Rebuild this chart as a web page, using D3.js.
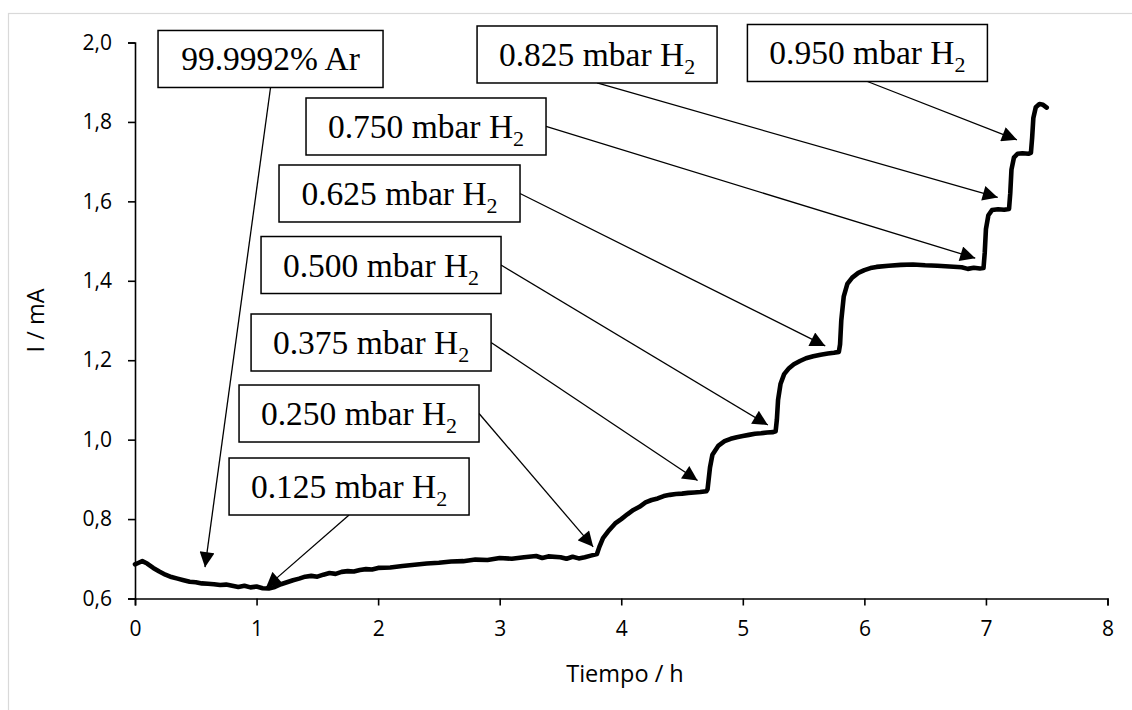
<!DOCTYPE html>
<html>
<head>
<meta charset="utf-8">
<script src="https://cdn.jsdelivr.net/npm/d3@7"></script>
<style>
  html, body { margin: 0; padding: 0; background: #fff; }
  svg { display: block; }
</style>
</head>
<body>
<svg id="chart" width="1132" height="710"></svg>
<script>
// ---------------- DATA ----------------
const timeH = [0,0.03,0.06,0.1,0.15,0.2,0.25,0.3,0.35,0.4,0.45,0.5,0.55,0.6,0.65,0.7,0.75,0.8,0.85,0.9,0.95,1.0,1.05,1.1,1.15,1.2,1.25,1.3,1.35,1.4,1.45,1.5,1.55,1.6,1.65,1.7,1.75,1.8,1.85,1.9,1.95,2.0,2.1,2.2,2.3,2.4,2.5,2.6,2.7,2.8,2.9,3.0,3.1,3.2,3.3,3.35,3.4,3.5,3.55,3.6,3.65,3.7,3.75,3.8,3.82,3.85,3.9,3.95,4.0,4.05,4.1,4.15,4.2,4.25,4.3,4.35,4.4,4.45,4.5,4.55,4.6,4.65,4.7,4.71,4.73,4.75,4.8,4.85,4.9,4.95,5.0,5.05,5.1,5.15,5.2,5.25,5.27,5.28,5.29,5.31,5.34,5.38,5.42,5.47,5.52,5.58,5.64,5.7,5.75,5.79,5.8,5.81,5.83,5.86,5.9,5.95,6.0,6.05,6.1,6.2,6.3,6.4,6.5,6.6,6.7,6.8,6.85,6.9,6.95,6.98,6.99,7.0,7.02,7.05,7.1,7.15,7.19,7.2,7.21,7.23,7.26,7.3,7.35,7.37,7.38,7.39,7.41,7.44,7.47,7.5];
const currentMA = [0.686,0.690,0.694,0.688,0.677,0.668,0.660,0.654,0.650,0.646,0.642,0.641,0.638,0.637,0.636,0.634,0.635,0.632,0.629,0.632,0.628,0.630,0.626,0.625,0.629,0.636,0.641,0.646,0.650,0.655,0.657,0.655,0.660,0.664,0.662,0.667,0.669,0.668,0.672,0.674,0.673,0.677,0.678,0.682,0.685,0.688,0.690,0.693,0.694,0.698,0.697,0.702,0.700,0.704,0.707,0.702,0.706,0.704,0.700,0.705,0.701,0.704,0.708,0.712,0.730,0.752,0.772,0.789,0.800,0.812,0.823,0.831,0.842,0.848,0.852,0.858,0.861,0.863,0.864,0.866,0.867,0.868,0.870,0.875,0.930,0.962,0.985,0.996,1.002,1.006,1.009,1.012,1.015,1.016,1.018,1.019,1.021,1.05,1.10,1.14,1.165,1.18,1.19,1.198,1.205,1.21,1.214,1.217,1.219,1.221,1.24,1.30,1.36,1.392,1.408,1.42,1.427,1.432,1.435,1.438,1.440,1.441,1.439,1.438,1.436,1.434,1.430,1.433,1.431,1.432,1.47,1.53,1.565,1.578,1.580,1.579,1.581,1.62,1.68,1.71,1.72,1.721,1.720,1.722,1.76,1.81,1.837,1.845,1.843,1.836];

const xTicks = [0,1,2,3,4,5,6,7,8];
const yTicks = [0.6,0.8,1.0,1.2,1.4,1.6,1.8,2.0];
const xTitle = "Tiempo / h";
const yTitle = "I / mA";

// annotations: label text, subscript, box centre (data units), arrow target (data units)
const annText   = ["99.9992% Ar","0.125 mbar H","0.250 mbar H","0.375 mbar H","0.500 mbar H","0.625 mbar H","0.750 mbar H","0.825 mbar H","0.950 mbar H"];
const annSub    = ["","2","2","2","2","2","2","2","2"];
const annBoxT   = [1.115,1.761,1.843,1.942,2.024,2.176,2.394,3.801,6.025];
const annBoxV   = [1.9585,0.882,1.0658,1.2446,1.4397,1.6198,1.7885,1.9698,1.9736];
const annTipT   = [0.576,1.078,3.769,4.628,5.206,5.678,6.912,7.097,7.255];
const annTipV   = [0.679,0.628,0.730,0.897,1.037,1.236,1.457,1.610,1.755];
const annSide   = ["bottom","bottom","right","right","right","right","right","bottom","bottom"];

// ---------------- LAYOUT ----------------
const svg = d3.select("#chart");
const plot = { left: 135, right: 1107.5, top: 42.5, bottom: 598.5 };
const x = d3.scaleLinear().domain([0, 8]).range([plot.left, plot.right]);
const y = d3.scaleLinear().domain([0.6, 2.0]).range([plot.bottom, plot.top]);

// outer light border
svg.append("rect")
  .attr("x", 8.5).attr("y", 13.5).attr("width", 1140).attr("height", 720)
  .attr("fill", "#fff").attr("stroke", "#d9d9d9").attr("stroke-width", 1.2);

const tickFont = "'Open Sans', 'Liberation Sans', sans-serif";

// X axis
const xAxis = svg.append("g")
  .attr("transform", `translate(0,${plot.bottom})`)
  .call(d3.axisBottom(x).tickValues(xTicks).tickSize(7).tickSizeOuter(7).tickPadding(16)
        .tickFormat(d3.format("d")));
// Y axis
const yAxis = svg.append("g")
  .attr("transform", `translate(${plot.left},0)`)
  .call(d3.axisLeft(y).tickValues(yTicks).tickSize(7).tickSizeOuter(7).tickPadding(16)
        .tickFormat(d => d3.format(".1f")(d).replace(".", ",")));

[xAxis, yAxis].forEach(g => {
  g.select(".domain").attr("stroke", "#000").attr("stroke-width", 1.6);
  g.selectAll(".tick line").attr("stroke", "#000").attr("stroke-width", 1.6);
  g.selectAll("text").attr("font-family", tickFont).attr("font-size", 21).attr("fill", "#000");
});

// axis titles
svg.append("text")
  .attr("x", 625).attr("y", 682)
  .attr("text-anchor", "middle")
  .attr("font-family", tickFont).attr("font-size", 23.5).attr("fill", "#000")
  .text(xTitle);
svg.append("text")
  .attr("transform", `translate(44,${(plot.top + plot.bottom) / 2}) rotate(-90)`)
  .attr("text-anchor", "middle")
  .attr("font-family", tickFont).attr("font-size", 23.5).attr("fill", "#000")
  .text(yTitle);

// data line
const line = d3.line().x((d, i) => x(timeH[i])).y(d => y(d));
svg.append("path")
  .datum(currentMA)
  .attr("d", line)
  .attr("fill", "none")
  .attr("stroke", "#000")
  .attr("stroke-width", 4.6)
  .attr("stroke-linejoin", "round")
  .attr("stroke-linecap", "round");

// arrowhead marker
svg.append("defs").append("marker")
  .attr("id", "arrow")
  .attr("viewBox", "0 0 10 10")
  .attr("refX", 10).attr("refY", 5)
  .attr("markerUnits", "userSpaceOnUse")
  .attr("markerWidth", 16).attr("markerHeight", 15)
  .attr("orient", "auto")
  .append("path").attr("d", "M0,0 L10,5 L0,10 Z").attr("fill", "#000");

const boxW = [225,240,240,240,240,241,240,240,240];
const boxH = 57;

annText.forEach((t, i) => {
  const cx = x(annBoxT[i]), cy = y(annBoxV[i]);
  const w = boxW[i];
  const sx = annSide[i] === "right" ? cx + w / 2 : cx;
  const sy = annSide[i] === "right" ? cy : cy + boxH / 2;
  svg.append("line")
    .attr("x1", sx).attr("y1", sy)
    .attr("x2", x(annTipT[i])).attr("y2", y(annTipV[i]))
    .attr("stroke", "#000").attr("stroke-width", 1.3)
    .attr("marker-end", "url(#arrow)");
});

annText.forEach((t, i) => {
  const cx = x(annBoxT[i]), cy = y(annBoxV[i]);
  const w = boxW[i];
  svg.append("rect")
    .attr("x", cx - w / 2).attr("y", cy - boxH / 2)
    .attr("width", w).attr("height", boxH)
    .attr("fill", "#fff").attr("stroke", "#000").attr("stroke-width", 1.5);
  const txt = svg.append("text")
    .attr("x", cx).attr("y", cy + 11.5)
    .attr("text-anchor", "middle")
    .attr("font-family", "'Liberation Serif', 'DejaVu Serif', serif")
    .attr("font-size", 33.5).attr("fill", "#000");
  txt.append("tspan").text(t);
  if (annSub[i]) {
    txt.append("tspan").attr("dy", 8).attr("font-size", 22).text(annSub[i]);
  }
});
</script>
</body>
</html>
